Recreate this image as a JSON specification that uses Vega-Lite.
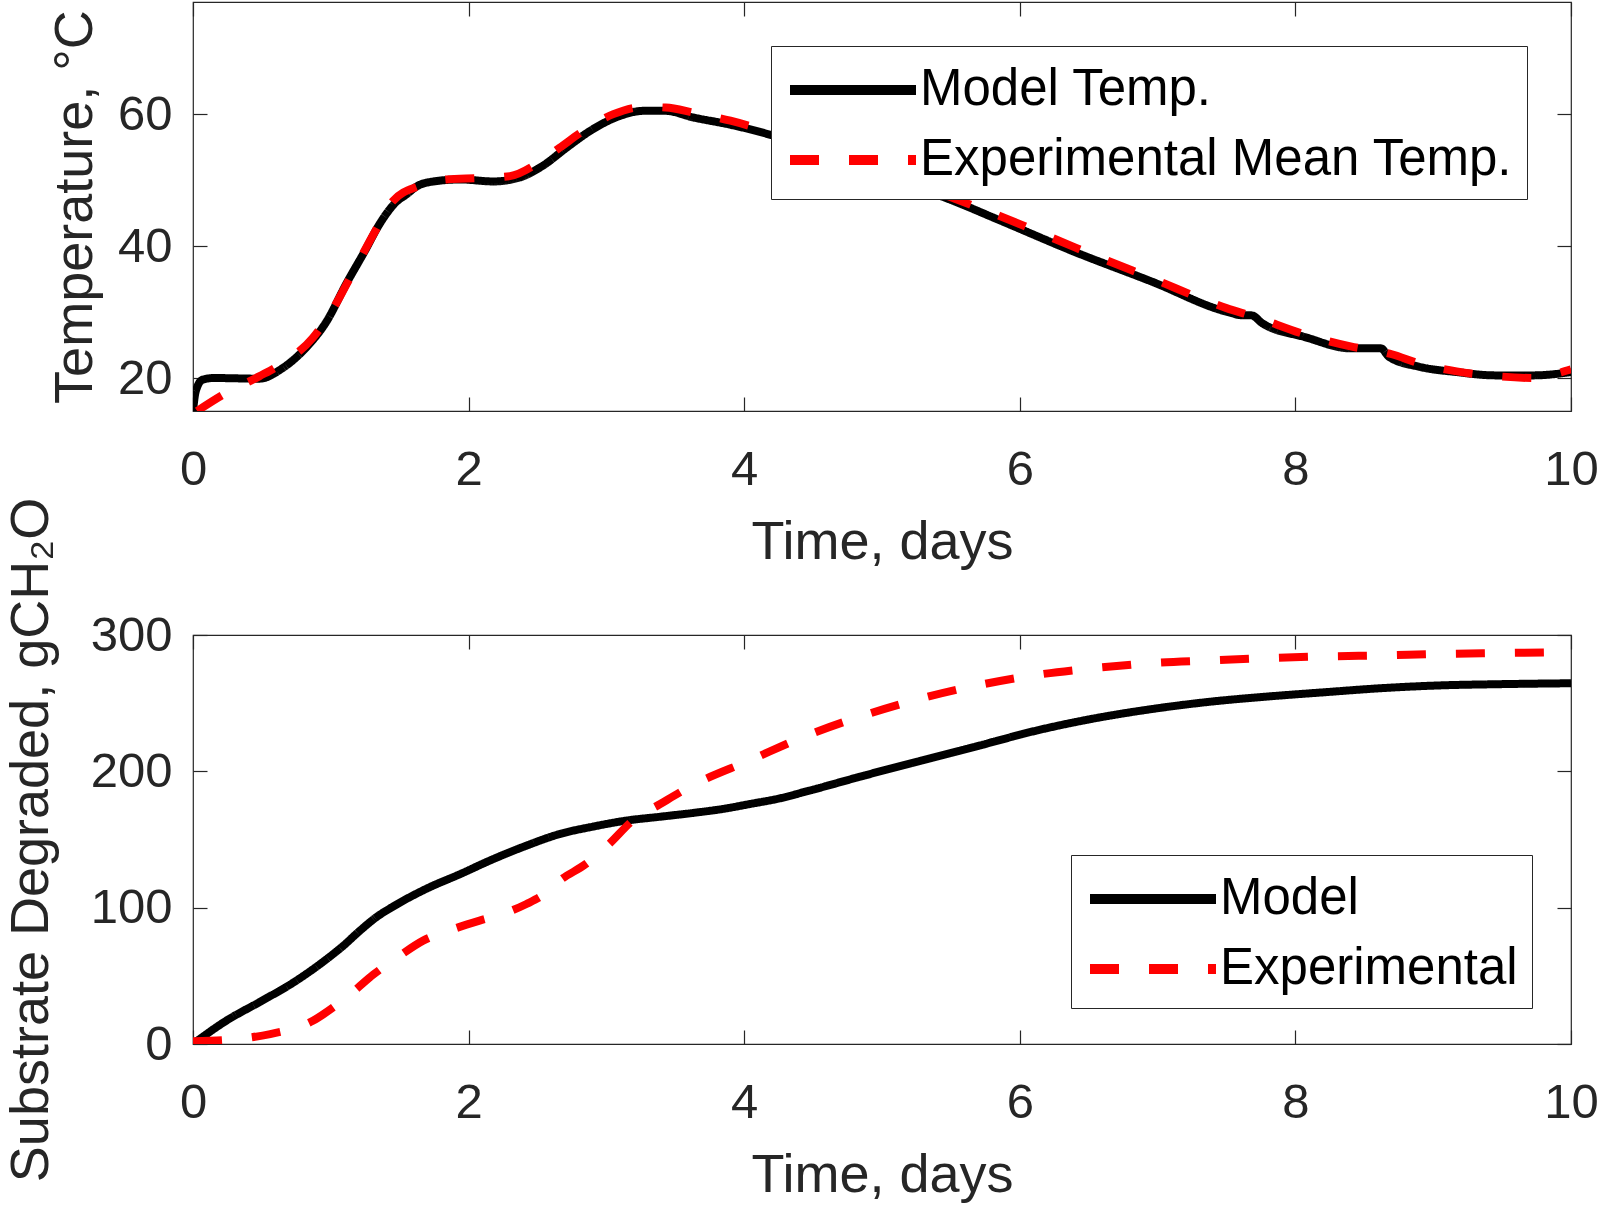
{
  "$schema": "https://vega.github.io/schema/vega-lite/v6.json",
  "padding": {"left": 3, "top": 0, "right": 5, "bottom": 5},
  "background": "white",
  "bounds": "flush",
  "spacing": 224,
  "datasets": {
    "temp": [
      {"s": "Model Temp.", "d": 0, "v": 15.0},
      {"s": "Model Temp.", "d": 0.02, "v": 18.0},
      {"s": "Model Temp.", "d": 0.07, "v": 19.75},
      {"s": "Model Temp.", "d": 0.15, "v": 20.0},
      {"s": "Model Temp.", "d": 0.48, "v": 19.9},
      {"s": "Model Temp.", "d": 0.65, "v": 21.5},
      {"s": "Model Temp.", "d": 0.82, "v": 24.6},
      {"s": "Model Temp.", "d": 0.97, "v": 28.6},
      {"s": "Model Temp.", "d": 1.11, "v": 34.2},
      {"s": "Model Temp.", "d": 1.26, "v": 39.75},
      {"s": "Model Temp.", "d": 1.33, "v": 42.5},
      {"s": "Model Temp.", "d": 1.4, "v": 44.8},
      {"s": "Model Temp.", "d": 1.47, "v": 46.6},
      {"s": "Model Temp.", "d": 1.55, "v": 47.85},
      {"s": "Model Temp.", "d": 1.62, "v": 49.0},
      {"s": "Model Temp.", "d": 1.69, "v": 49.6},
      {"s": "Model Temp.", "d": 1.94, "v": 50.1},
      {"s": "Model Temp.", "d": 2.18, "v": 49.8},
      {"s": "Model Temp.", "d": 2.37, "v": 50.4},
      {"s": "Model Temp.", "d": 2.54, "v": 52.2},
      {"s": "Model Temp.", "d": 2.71, "v": 54.9},
      {"s": "Model Temp.", "d": 2.9, "v": 57.7},
      {"s": "Model Temp.", "d": 3.1, "v": 59.75},
      {"s": "Model Temp.", "d": 3.27, "v": 60.5},
      {"s": "Model Temp.", "d": 3.43, "v": 60.5},
      {"s": "Model Temp.", "d": 3.63, "v": 59.5},
      {"s": "Model Temp.", "d": 3.9, "v": 58.4},
      {"s": "Model Temp.", "d": 4.2, "v": 56.8},
      {"s": "Model Temp.", "d": 4.5, "v": 54.7},
      {"s": "Model Temp.", "d": 5.0, "v": 50.7},
      {"s": "Model Temp.", "d": 5.5, "v": 47.0},
      {"s": "Model Temp.", "d": 5.85, "v": 43.95},
      {"s": "Model Temp.", "d": 6.4, "v": 39.1},
      {"s": "Model Temp.", "d": 6.96, "v": 34.6},
      {"s": "Model Temp.", "d": 7.51, "v": 30.0},
      {"s": "Model Temp.", "d": 7.62, "v": 29.5},
      {"s": "Model Temp.", "d": 7.68, "v": 29.5},
      {"s": "Model Temp.", "d": 7.76, "v": 28.3},
      {"s": "Model Temp.", "d": 8.07, "v": 26.2},
      {"s": "Model Temp.", "d": 8.4, "v": 24.5},
      {"s": "Model Temp.", "d": 8.62, "v": 24.5},
      {"s": "Model Temp.", "d": 8.68, "v": 23.2},
      {"s": "Model Temp.", "d": 8.9, "v": 21.7},
      {"s": "Model Temp.", "d": 9.17, "v": 20.9},
      {"s": "Model Temp.", "d": 9.45, "v": 20.4},
      {"s": "Model Temp.", "d": 9.73, "v": 20.4},
      {"s": "Model Temp.", "d": 10, "v": 20.9},
      {"s": "Experimental Mean Temp.", "d": 0.03, "v": 15.0},
      {"s": "Experimental Mean Temp.", "d": 0.22, "v": 17.5},
      {"s": "Experimental Mean Temp.", "d": 0.48, "v": 20.25},
      {"s": "Experimental Mean Temp.", "d": 0.63, "v": 22.0},
      {"s": "Experimental Mean Temp.", "d": 0.87, "v": 26.1},
      {"s": "Experimental Mean Temp.", "d": 1.02, "v": 30.6},
      {"s": "Experimental Mean Temp.", "d": 1.14, "v": 35.2},
      {"s": "Experimental Mean Temp.", "d": 1.31, "v": 41.8},
      {"s": "Experimental Mean Temp.", "d": 1.45, "v": 46.8},
      {"s": "Experimental Mean Temp.", "d": 1.64, "v": 49.1},
      {"s": "Experimental Mean Temp.", "d": 1.84, "v": 50.1},
      {"s": "Experimental Mean Temp.", "d": 2.08, "v": 50.3},
      {"s": "Experimental Mean Temp.", "d": 2.3, "v": 50.6},
      {"s": "Experimental Mean Temp.", "d": 2.49, "v": 52.4},
      {"s": "Experimental Mean Temp.", "d": 2.66, "v": 54.9},
      {"s": "Experimental Mean Temp.", "d": 2.85, "v": 57.7},
      {"s": "Experimental Mean Temp.", "d": 3.05, "v": 60.0},
      {"s": "Experimental Mean Temp.", "d": 3.27, "v": 61.1},
      {"s": "Experimental Mean Temp.", "d": 3.43, "v": 61.0},
      {"s": "Experimental Mean Temp.", "d": 3.63, "v": 60.25},
      {"s": "Experimental Mean Temp.", "d": 3.9, "v": 59.0},
      {"s": "Experimental Mean Temp.", "d": 4.2, "v": 57.2},
      {"s": "Experimental Mean Temp.", "d": 4.5, "v": 55.0},
      {"s": "Experimental Mean Temp.", "d": 5.0, "v": 51.0},
      {"s": "Experimental Mean Temp.", "d": 5.5, "v": 47.4},
      {"s": "Experimental Mean Temp.", "d": 5.85, "v": 44.6},
      {"s": "Experimental Mean Temp.", "d": 6.4, "v": 39.8},
      {"s": "Experimental Mean Temp.", "d": 6.96, "v": 35.1},
      {"s": "Experimental Mean Temp.", "d": 7.5, "v": 30.6},
      {"s": "Experimental Mean Temp.", "d": 7.7, "v": 29.3},
      {"s": "Experimental Mean Temp.", "d": 8.07, "v": 26.6},
      {"s": "Experimental Mean Temp.", "d": 8.4, "v": 24.8},
      {"s": "Experimental Mean Temp.", "d": 8.7, "v": 23.6},
      {"s": "Experimental Mean Temp.", "d": 8.9, "v": 22.2},
      {"s": "Experimental Mean Temp.", "d": 9.17, "v": 21.0},
      {"s": "Experimental Mean Temp.", "d": 9.45, "v": 20.3},
      {"s": "Experimental Mean Temp.", "d": 9.73, "v": 20.0},
      {"s": "Experimental Mean Temp.", "d": 9.9, "v": 20.7},
      {"s": "Experimental Mean Temp.", "d": 10, "v": 21.3}
    ],
    "sub": [
      {"s": "Model", "d": 0, "v": 0},
      {"s": "Model", "d": 0.24, "v": 17},
      {"s": "Model", "d": 0.48, "v": 30.6},
      {"s": "Model", "d": 0.73, "v": 45.2},
      {"s": "Model", "d": 0.97, "v": 62.3},
      {"s": "Model", "d": 1.09, "v": 72},
      {"s": "Model", "d": 1.21, "v": 83},
      {"s": "Model", "d": 1.33, "v": 93},
      {"s": "Model", "d": 1.45, "v": 100.7},
      {"s": "Model", "d": 1.69, "v": 113.7},
      {"s": "Model", "d": 1.94, "v": 124.7},
      {"s": "Model", "d": 2.18, "v": 135.7},
      {"s": "Model", "d": 2.42, "v": 145.5},
      {"s": "Model", "d": 2.66, "v": 154},
      {"s": "Model", "d": 2.9, "v": 159.4},
      {"s": "Model", "d": 3.14, "v": 163.8},
      {"s": "Model", "d": 3.39, "v": 166.7},
      {"s": "Model", "d": 3.63, "v": 169.5},
      {"s": "Model", "d": 3.85, "v": 172.5},
      {"s": "Model", "d": 4.04, "v": 176},
      {"s": "Model", "d": 4.25, "v": 180},
      {"s": "Model", "d": 4.46, "v": 185.5},
      {"s": "Model", "d": 4.875, "v": 197},
      {"s": "Model", "d": 5.29, "v": 208},
      {"s": "Model", "d": 5.71, "v": 219},
      {"s": "Model", "d": 6.125, "v": 230},
      {"s": "Model", "d": 6.54, "v": 238.8},
      {"s": "Model", "d": 6.96, "v": 245.7},
      {"s": "Model", "d": 7.375, "v": 251},
      {"s": "Model", "d": 7.79, "v": 254.8},
      {"s": "Model", "d": 8.21, "v": 258},
      {"s": "Model", "d": 8.625, "v": 261},
      {"s": "Model", "d": 9.04, "v": 263},
      {"s": "Model", "d": 9.46, "v": 263.9},
      {"s": "Model", "d": 10, "v": 264.6},
      {"s": "Experimental", "d": 0, "v": 2},
      {"s": "Experimental", "d": 0.3, "v": 3.5},
      {"s": "Experimental", "d": 0.56, "v": 7.3},
      {"s": "Experimental", "d": 0.87, "v": 17},
      {"s": "Experimental", "d": 1.02, "v": 27},
      {"s": "Experimental", "d": 1.17, "v": 39},
      {"s": "Experimental", "d": 1.31, "v": 51},
      {"s": "Experimental", "d": 1.49, "v": 64},
      {"s": "Experimental", "d": 1.67, "v": 75.8},
      {"s": "Experimental", "d": 1.88, "v": 84},
      {"s": "Experimental", "d": 2.08, "v": 90.5},
      {"s": "Experimental", "d": 2.25, "v": 95.5},
      {"s": "Experimental", "d": 2.42, "v": 102.7},
      {"s": "Experimental", "d": 2.55, "v": 110},
      {"s": "Experimental", "d": 2.66, "v": 119.8},
      {"s": "Experimental", "d": 2.85, "v": 132},
      {"s": "Experimental", "d": 3.02, "v": 146.7},
      {"s": "Experimental", "d": 3.19, "v": 163.8},
      {"s": "Experimental", "d": 3.39, "v": 176},
      {"s": "Experimental", "d": 3.63, "v": 190},
      {"s": "Experimental", "d": 4.04, "v": 208},
      {"s": "Experimental", "d": 4.46, "v": 226.5},
      {"s": "Experimental", "d": 4.875, "v": 241.3},
      {"s": "Experimental", "d": 5.29, "v": 253.6},
      {"s": "Experimental", "d": 5.71, "v": 263.4},
      {"s": "Experimental", "d": 6.125, "v": 270.8},
      {"s": "Experimental", "d": 6.54, "v": 275.7},
      {"s": "Experimental", "d": 6.96, "v": 279.4},
      {"s": "Experimental", "d": 7.375, "v": 281.3},
      {"s": "Experimental", "d": 7.79, "v": 283},
      {"s": "Experimental", "d": 8.21, "v": 284.3},
      {"s": "Experimental", "d": 8.625, "v": 285},
      {"s": "Experimental", "d": 9.04, "v": 286},
      {"s": "Experimental", "d": 9.46, "v": 286.7},
      {"s": "Experimental", "d": 10, "v": 287.5}
    ]
  },
  "vconcat": [
    {
      "width": 1378,
      "height": 409,
      "data": {"name": "temp"},
      "layer": [
        {
          "mark": {"type": "line", "strokeWidth": 8, "clip": true, "interpolate": "monotone"},
          "encoding": {
            "x": {"field": "d", "type": "quantitative", "scale": {"domain": [0, 10], "nice": false},
                  "axis": {"orient": "bottom", "values": [0, 2, 4, 6, 8, 10], "title": "Time, days"}},
            "y": {"field": "v", "type": "quantitative", "scale": {"domain": [15, 77], "nice": false, "zero": false},
                  "axis": {"orient": "left", "values": [20, 40, 60], "title": "Temperature,  °C", "titlePadding": 15}},
            "color": {"field": "s", "type": "nominal",
                      "scale": {"domain": ["Model Temp.", "Experimental Mean Temp."], "range": ["#000000", "#ff0000"]},
                      "legend": {"title": null, "legendX": 578, "legendY": 44}},
            "strokeDash": {"field": "s", "type": "nominal",
                           "scale": {"domain": ["Model Temp.", "Experimental Mean Temp."], "range": [[1, 0], [29, 30]]},
                           "legend": {"title": null, "legendX": 578, "legendY": 44}}
          }
        },
        {
          "mark": {"type": "line", "opacity": 0},
          "encoding": {
            "x": {"field": "d", "type": "quantitative", "axis": {"orient": "top", "values": [0, 2, 4, 6, 8, 10], "labels": false, "title": null}},
            "y": {"field": "v", "type": "quantitative", "axis": {"orient": "right", "values": [20, 40, 60], "labels": false, "title": null}}
          }
        }
      ],
      "resolve": {"axis": {"x": "independent", "y": "independent"}}
    },
    {
      "width": 1378,
      "height": 409,
      "data": {"name": "sub"},
      "layer": [
        {
          "mark": {"type": "line", "strokeWidth": 8, "clip": true, "interpolate": "monotone"},
          "encoding": {
            "x": {"field": "d", "type": "quantitative", "scale": {"domain": [0, 10], "nice": false},
                  "axis": {"orient": "bottom", "values": [0, 2, 4, 6, 8, 10], "title": "Time, days"}},
            "y": {"field": "v", "type": "quantitative", "scale": {"domain": [0, 300], "nice": false},
                  "axis": {"orient": "left", "values": [0, 100, 200, 300], "title": "Substrate Degraded, gCH₂O", "titlePadding": 32}},
            "color": {"field": "s", "type": "nominal",
                      "scale": {"domain": ["Model", "Experimental"], "range": ["#000000", "#ff0000"]},
                      "legend": {"title": null, "legendX": 878, "legendY": 220}},
            "strokeDash": {"field": "s", "type": "nominal",
                           "scale": {"domain": ["Model", "Experimental"], "range": [[1, 0], [29, 30]]},
                           "legend": {"title": null, "legendX": 878, "legendY": 220}}
          }
        },
        {
          "mark": {"type": "line", "opacity": 0},
          "encoding": {
            "x": {"field": "d", "type": "quantitative", "axis": {"orient": "top", "values": [0, 2, 4, 6, 8, 10], "labels": false, "title": null}},
            "y": {"field": "v", "type": "quantitative", "axis": {"orient": "right", "values": [0, 100, 200, 300], "labels": false, "title": null}}
          }
        }
      ],
      "resolve": {"axis": {"x": "independent", "y": "independent"}}
    }
  ],
  "resolve": {"scale": {"color": "independent", "strokeDash": "independent"}, "legend": {"color": "independent", "strokeDash": "independent"}},
  "config": {
    "font": "Liberation Sans",
    "view": {"stroke": "#262626", "strokeWidth": 1.2},
    "axis": {
      "domain": false,
      "grid": false,
      "tickSize": -14,
      "tickWidth": 1.2,
      "tickColor": "#262626",
      "labelFontSize": 49,
      "labelColor": "#262626",
      "labelFlush": false,
      "labelOverlap": false,
      "labelBound": false,
      "titleFontSize": 54,
      "titleFontWeight": "normal",
      "titleColor": "#262626"
    },
    "axisX": {"labelPadding": 48, "titlePadding": 21},
    "axisY": {"labelPadding": 35},
    "legend": {
      "orient": "none",
      "symbolType": "M-1,0H4.04",
      "symbolSize": 2500,
      "symbolStrokeWidth": 10,
      "labelFontSize": 51,
      "labelColor": "#000000",
      "labelLimit": 0,
      "padding": 14,
      "rowPadding": 15,
      "labelOffset": 75,
      "strokeColor": "#262626",
      "fillColor": "white"
    }
  }
}
